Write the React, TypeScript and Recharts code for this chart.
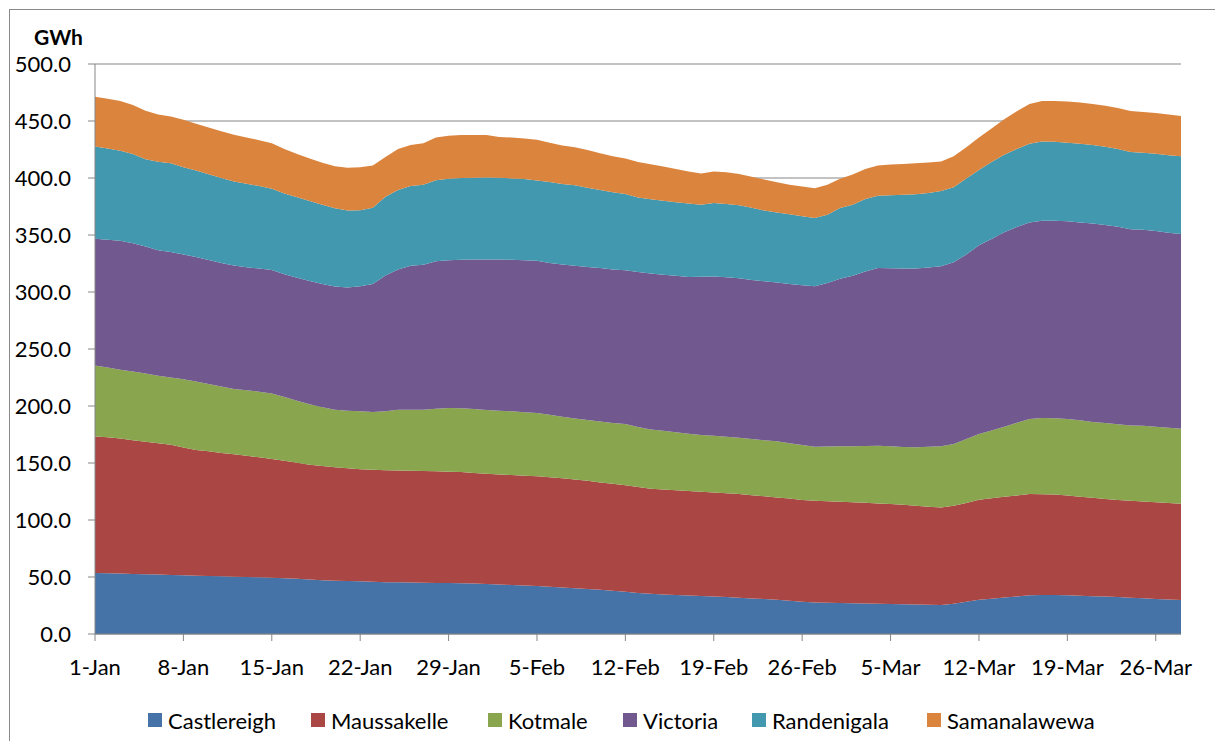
import React from "react";
import { AreaChart, Area, XAxis, YAxis, CartesianGrid } from "recharts";

const days = [
  "1-Jan","2-Jan","3-Jan","4-Jan","5-Jan","6-Jan","7-Jan","8-Jan","9-Jan","10-Jan",
  "11-Jan","12-Jan","13-Jan","14-Jan","15-Jan","16-Jan","17-Jan","18-Jan","19-Jan","20-Jan",
  "21-Jan","22-Jan","23-Jan","24-Jan","25-Jan","26-Jan","27-Jan","28-Jan","29-Jan","30-Jan","31-Jan",
  "1-Feb","2-Feb","3-Feb","4-Feb","5-Feb","6-Feb","7-Feb","8-Feb","9-Feb","10-Feb",
  "11-Feb","12-Feb","13-Feb","14-Feb","15-Feb","16-Feb","17-Feb","18-Feb","19-Feb","20-Feb",
  "21-Feb","22-Feb","23-Feb","24-Feb","25-Feb","26-Feb","27-Feb","28-Feb",
  "1-Mar","2-Mar","3-Mar","4-Mar","5-Mar","6-Mar","7-Mar","8-Mar","9-Mar","10-Mar",
  "11-Mar","12-Mar","13-Mar","14-Mar","15-Mar","16-Mar","17-Mar","18-Mar","19-Mar","20-Mar",
  "21-Mar","22-Mar","23-Mar","24-Mar","25-Mar","26-Mar","27-Mar","28-Mar",
];

const castlereigh = [
  53.5,53.3,53.0,52.7,52.4,52.1,51.8,51.5,51.2,50.9,50.6,50.3,50.0,49.7,49.4,49.0,48.4,47.8,47.2,46.8,
  46.5,46.2,45.8,45.5,45.3,45.1,45.0,44.8,44.7,44.5,44.2,43.8,43.4,43.0,42.5,42.0,41.4,40.8,40.2,39.5,
  38.8,38.0,37.0,36.0,35.2,34.7,34.2,33.7,33.3,33.0,32.4,31.8,31.2,30.6,30.0,29.2,28.2,27.7,27.4,27.2,
  27.0,26.8,26.5,26.3,26.1,25.9,25.6,25.4,26.5,28.2,30.0,31.0,32.0,33.0,33.9,34.2,34.2,34.0,33.6,33.2,
  32.8,32.4,31.8,31.3,30.8,30.2,29.8,
];
const maussakelle = [
  119.8,119.2,118.5,117.3,116.3,115.3,114.2,112.0,110.3,109.3,108.2,107.3,106.4,105.3,104.0,103.0,101.9,100.7,100.2,99.5,
  98.9,98.3,98.2,98.2,98.2,98.2,98.0,97.9,97.7,97.5,97.1,96.8,96.6,96.4,96.3,96.3,96.1,95.9,95.4,94.9,
  94.2,93.7,93.4,93.0,92.3,92.1,91.9,91.7,91.5,91.2,91.1,91.0,90.6,90.2,89.8,89.6,89.4,89.2,89.1,88.9,
  88.6,88.3,88.0,87.7,87.2,86.6,86.0,85.6,86.0,86.8,87.8,88.0,88.3,88.6,88.9,88.4,88.1,87.4,86.9,86.3,
  85.7,85.2,85.1,84.9,84.8,84.7,84.5,
];
const kotmale = [
  62.3,61.2,60.3,60.2,59.9,59.1,59.0,59.9,60.1,59.1,58.3,57.4,57.4,57.6,57.6,55.8,54.3,53.1,51.6,50.4,
  50.5,50.9,50.8,51.8,53.2,53.5,53.8,54.9,55.8,56.1,56.1,55.9,55.9,55.9,55.8,55.6,54.9,53.9,53.4,53.3,
  53.4,53.3,53.8,52.6,51.9,51.4,50.9,50.2,49.8,49.6,49.5,49.4,49.3,49.2,49.2,48.5,48.2,47.4,47.9,48.5,
  49.2,49.9,50.7,50.7,50.7,51.3,52.7,53.8,54.2,56.0,57.6,59.5,61.5,63.6,65.8,66.9,66.9,67.3,67.1,66.5,
  66.5,66.4,66.1,66.5,66.3,66.0,65.7,
];
const victoria = [
  111.1,112.2,113.2,112.6,111.4,110.1,110.0,109.6,109.0,108.8,108.4,108.3,108.0,108.0,108.4,107.8,107.9,108.0,108.0,108.1,
  108.1,109.6,112.2,119.0,123.1,126.2,127.2,129.4,129.6,130.2,131.1,132.1,132.6,132.9,133.3,133.6,133.1,133.6,134.0,134.3,
  134.6,134.8,134.8,135.9,136.8,137.0,137.2,137.6,138.8,139.9,140.0,139.8,139.4,139.4,139.4,139.7,140.2,140.7,143.6,147.1,
  149.5,153.0,155.8,156.1,156.6,156.8,157.1,157.7,159.3,162.0,165.6,168.0,170.7,171.8,172.4,173.0,173.3,173.3,173.4,174.0,
  173.8,173.3,172.0,171.8,171.6,171.1,170.9,
];
const randenigala = [
  81.0,79.9,79.0,78.2,76.5,77.7,78.0,76.5,75.9,75.2,74.5,73.7,73.2,72.4,71.1,70.9,70.7,70.3,69.6,68.6,
  67.6,66.8,67.0,69.0,69.7,70.0,70.0,71.0,71.5,71.7,71.8,71.9,71.7,71.4,71.2,70.3,71.0,70.6,70.6,69.5,
  68.4,67.6,67.0,65.5,65.1,64.8,64.6,64.5,63.2,64.3,64.3,64.2,63.5,62.1,61.4,61.2,60.5,60.0,59.8,62.0,
  62.3,63.6,63.4,64.1,64.6,65.2,65.4,66.0,65.8,66.5,66.0,67.5,68.0,68.5,69.0,69.5,69.3,69.0,69.0,68.9,
  68.6,68.2,67.8,67.7,67.7,68.0,68.1,
];
const samanalawewa = [
  43.6,43.7,43.6,43.0,42.5,41.3,41.0,41.5,41.0,40.9,41.0,41.0,40.5,40.2,40.0,39.0,37.8,37.1,36.7,36.9,
  37.4,37.7,37.0,35.0,36.0,36.0,36.5,37.5,37.7,37.7,37.4,37.2,35.8,35.9,35.5,35.7,34.5,33.8,33.4,33.0,
  32.3,31.6,31.2,31.0,30.7,30.0,29.2,28.1,27.4,27.8,27.7,27.4,27.0,27.2,26.5,25.8,26.0,26.0,26.2,25.7,
  26.4,26.4,26.6,26.9,27.1,27.1,26.7,26.0,27.2,27.5,28.6,29.5,31.0,33.0,35.0,35.6,35.8,36.2,36.2,36.1,
  35.9,35.8,35.9,35.8,35.8,35.6,35.4,
];

const seriesNames = ["Castlereigh", "Maussakelle", "Kotmale", "Victoria", "Randenigala", "Samanalawewa"];
const seriesColors = ["#4572A7", "#AA4643", "#89A54E", "#71588F", "#4198AF", "#DB843D"];
const seriesValues = [castlereigh, maussakelle, kotmale, victoria, randenigala, samanalawewa];
const yTicks = [0, 50, 100, 150, 200, 250, 300, 350, 400, 450, 500];
// legend item left offsets (px, relative to chart container)
const legendX = [140, 303, 480, 615, 744, 919];

const data = days.map((d, i) => {
  const row: Record<string, string | number> = { day: d };
  seriesNames.forEach((n, k) => {
    row[n] = seriesValues[k][i];
  });
  return row;
});

const FONT = "Lato, 'Open Sans', sans-serif";
const GRID = "#868686";

export default function App() {
  return (
    <div style={{ position: "relative", width: 1207, height: 733, fontFamily: FONT }}>
      <div
        style={{
          position: "absolute",
          left: 1,
          top: 1,
          width: 1300,
          height: 800,
          borderTop: "1px solid #8a8a8a",
          borderLeft: "1px solid #8a8a8a",
          boxSizing: "border-box",
          pointerEvents: "none",
        }}
      />
      <div
        style={{
          position: "absolute",
          left: 26,
          top: 17,
          fontWeight: 700,
          fontSize: 21,
          lineHeight: "24px",
          color: "#000",
        }}
      >
        GWh
      </div>
      <div style={{ position: "absolute", left: 0, top: 0 }}>
        <AreaChart
          width={1207}
          height={733}
          data={data}
          margin={{ top: 56, right: 34, bottom: 77, left: 10 }}
        >
          <CartesianGrid horizontal={true} vertical={false} stroke={GRID} strokeWidth={1} strokeOpacity={1} />
          <XAxis
            dataKey="day"
            interval={6}
            height={30}
            tickSize={7}
            tickMargin={18}
            axisLine={{ stroke: GRID }}
            tickLine={{ stroke: GRID }}
            tick={{ fill: "#000", fontSize: 22, fontFamily: FONT }}
          />
          <YAxis
            type="number"
            domain={[0, 500]}
            ticks={yTicks}
            width={77}
            tickSize={7}
            tickMargin={17}
            allowDataOverflow={true}
            tickFormatter={(v: number) => v.toFixed(1)}
            axisLine={{ stroke: GRID }}
            tickLine={{ stroke: GRID }}
            tick={{ fill: "#000", fontSize: 22, fontFamily: FONT }}
          />
          {seriesNames.map((n, k) => (
            <Area
              key={n}
              type="linear"
              dataKey={n}
              stackId="1"
              stroke="none"
              fill={seriesColors[k]}
              fillOpacity={1}
              isAnimationActive={false}
              dot={false}
              activeDot={false}
            />
          ))}
        </AreaChart>
      </div>
      {seriesNames.map((n, k) => (
        <div
          key={n}
          style={{
            position: "absolute",
            left: legendX[k],
            top: 700,
            height: 24,
            display: "flex",
            alignItems: "center",
            fontSize: 22,
            color: "#000",
            whiteSpace: "nowrap",
          }}
        >
          <div style={{ width: 14, height: 14, background: seriesColors[k], marginRight: 6 }} />
          <span>{n}</span>
        </div>
      ))}
    </div>
  );
}
